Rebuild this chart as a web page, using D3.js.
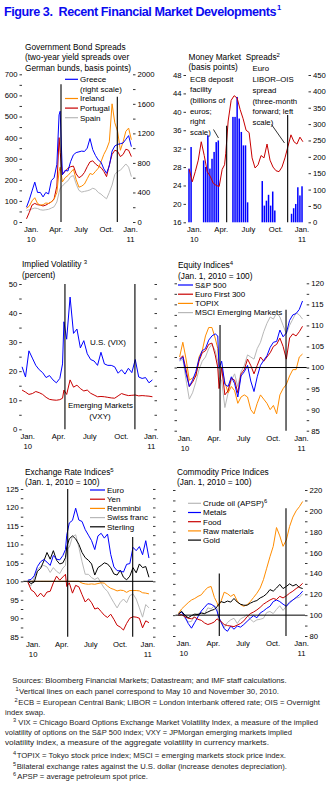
<!DOCTYPE html>
<html>
<head>
<meta charset="utf-8">
<script src="https://cdn.jsdelivr.net/npm/d3@7/dist/d3.min.js"></script>
<style>
html,body{margin:0;padding:0;background:#fff;}
svg{display:block;}
text{white-space:pre;}
</style>
</head>
<body>
<svg id="chart" width="335" height="793"></svg>
<script>
// ================= DATA =================
// sample dates: day offsets from Jan 1, 2010
const dayOffsets = [4,14,24,34,44,54,64,74,84,94,104,114,122,126,134,144,154,164,174,184,194,204,214,224,234,244,254,264,274,284,294,304,314,324,334,344,354,364,374,384];
const eventDays = [129, 333]; // May 10 and Nov 30, 2010
const monthLabels = ["Jan.","Apr.","July","Oct.","Jan."];
const yearLabels = ["10","11"];

// Panel 1: Government bond spreads (bp)
const greece   = [200,300,420,540,400,400,340,400,380,560,600,780,1450,1500,640,700,690,820,910,940,950,960,955,1000,1130,980,900,840,810,720,660,760,960,1030,1050,1060,1070,1120,1170,1020];
const ireland  = [65,75,100,115,88,80,82,90,88,95,108,140,240,260,190,210,220,235,250,200,165,170,180,205,230,225,240,255,285,320,345,380,560,470,430,340,380,430,445,390];
const portugal = [15,45,80,88,82,80,76,80,88,95,110,170,400,330,225,240,255,262,265,228,210,218,235,262,285,290,275,265,258,240,215,270,320,340,335,310,320,345,340,310];
const spain    = [55,58,62,66,64,58,56,58,60,66,72,95,140,160,170,185,195,215,220,180,150,142,145,148,152,160,155,140,132,120,110,140,175,225,240,245,260,275,260,215];
const p1LeftTicks = [0,100,200,300,400,500,600,700];
const p1RightTicks = [0,400,800,1200,1600,2000];

// Panel 2: Money market spreads
const liborOis = [27.5,24.8,27.0,29.5,33.5,30.5,27.0,26.0,24.5,24.0,23.8,27.5,28.5,31.0,38.0,42.5,43.5,43.0,40.5,38.5,36.0,35.5,30.0,27.8,28.5,30.5,30.0,33.0,29.5,28.0,27.2,27.0,28.0,30.0,32.5,35.0,33.5,33.0,34.5,33.5];
const ecbDays   = [3,10,52,59,66,73,80,87,94,101,150,157,164,171,178,185,192,199,248,255,262,269,276,283,290,346,353,360,367,374,381];
const ecbValues = [164,230,189,169,266,164,194,215,245,250,322,322,383,317,276,235,235,61,126,51,66,84,51,94,36,26,43,56,107,82,110];
const p2LeftTicks = [16,20,24,28,32,36,40,44,48];
const p2RightTicks = [0,50,100,150,200,250,300,350,400,450];

// Panel 3: Implied volatility (percent)
const vix = [21.5,18.0,27.0,24.5,22.0,20.5,19.5,17.8,18.5,17.0,16.0,17.5,22.5,37.0,31.0,45.5,33.0,34.5,28.0,30.5,26.0,24.0,23.5,22.0,26.5,22.5,22.0,22.0,21.5,19.3,20.5,19.0,21.0,19.5,24.0,18.0,17.5,17.8,16.0,17.0];
const vxy = [13.5,12.8,12.0,12.3,13.0,12.6,12.0,11.0,10.3,10.1,10.0,10.2,10.7,13.5,12.0,17.0,14.5,15.2,14.0,13.2,13.5,12.4,11.8,11.2,11.3,11.2,11.0,10.8,10.7,11.5,12.3,11.9,11.6,11.7,11.8,11.5,11.6,11.5,11.4,11.2];
const p3Ticks = [0,10,20,30,40,50];
const p3Minor = [5,15,25,35,45];

// Panel 4: Equity indices (Jan 1, 2010 = 100)
const sp500  = [101.8,102.5,98.5,95.5,97.0,99.0,102.0,104.0,104.5,106.5,107.5,108.0,107.5,99.8,101.5,96.0,95.5,97.8,96.2,93.0,98.0,99.0,100.5,96.8,94.3,97.8,100.5,101.7,102.8,104.8,106.0,106.2,108.9,107.3,108.2,111.2,112.5,112.8,113.8,115.8];
const euro300 = [102.0,102.8,99.5,95.5,96.5,98.0,101.5,103.5,104.0,105.5,105.8,103.0,100.0,95.0,100.0,93.5,94.5,97.5,97.0,94.0,98.5,99.5,102.0,100.5,98.5,100.5,102.5,101.5,102.5,103.5,105.0,105.5,107.0,105.0,102.0,107.0,108.0,107.5,108.5,109.8];
const topix  = [102.5,106.0,102.0,97.0,97.5,98.0,102.5,104.0,107.5,109.5,109.5,107.0,104.5,100.5,100.0,96.5,94.0,95.5,94.5,91.5,93.0,93.5,93.0,90.0,89.0,91.5,93.5,92.5,91.5,90.0,91.0,89.0,93.5,95.0,96.0,98.0,99.5,99.5,102.5,103.2];
const msciEm = [101.5,102.0,97.0,92.5,94.0,96.5,99.5,101.5,102.5,104.5,105.5,104.0,101.5,97.5,97.0,90.5,94.0,97.0,98.5,95.5,99.0,100.5,103.0,102.5,102.0,104.5,106.0,108.5,110.5,112.0,111.5,113.0,112.0,110.0,108.0,110.0,111.5,113.0,112.5,111.5];
const p4Ticks = [85,90,95,100,105,110,115,120];
const p4Minor = [87.5,92.5,97.5,102.5,107.5,112.5,117.5];

// Panel 5: Exchange rate indices (Jan 1, 2010 = 100)
const euroFx   = [100.3,100.5,101.5,104.0,105.3,105.9,105.2,104.3,107.0,106.0,105.8,107.0,108.6,112.5,115.8,116.5,119.8,116.6,116.2,114.0,112.5,111.0,108.6,112.3,113.0,111.7,112.8,107.3,103.9,102.9,102.8,102.5,104.6,104.8,109.2,108.3,109.4,107.2,111.0,106.3];
const yen      = [99.8,97.7,97.1,95.8,96.8,95.8,97.1,97.3,99.6,101.4,100.3,101.2,101.9,98.6,99.6,96.8,98.9,98.5,96.4,94.4,95.3,94.2,92.5,92.8,91.8,90.8,90.2,91.1,89.7,88.1,87.6,86.8,88.6,90.0,90.4,90.3,90.0,87.4,89.3,88.8];
const renminbi = [100,100,100,100,100,100,100,100,100,100,100,100,100,100,100,100,100,100,99.5,99.3,99.2,99.3,99.2,99.4,99.6,99.5,98.7,98.1,97.8,97.4,97.6,97.5,97.0,97.5,97.5,97.5,97.4,96.9,96.8,96.6];
const swiss    = [99.5,98.8,101.0,103.1,104.0,104.3,103.9,102.4,103.7,102.7,102.1,103.6,104.3,108.7,109.2,112.1,112.6,109.2,105.3,101.9,101.9,101.0,100.5,101.0,99.5,98.1,97.3,95.7,94.2,92.8,94.3,95.2,94.2,96.1,96.6,95.2,92.8,90.3,93.7,92.8];
const sterling = [100.0,99.4,99.8,102.7,103.5,105.5,107.8,106.0,108.3,105.7,104.7,105.0,106.4,109.3,111.5,112.3,111.5,110.0,107.8,106.4,105.7,104.7,101.7,103.7,104.3,105.0,104.7,103.7,102.0,101.7,103.0,101.1,100.4,101.4,103.7,102.3,104.7,103.7,104.0,101.1];
const p5Ticks = [85,90,95,100,105,110,115,120,125];
const p5Minor = [87.5,92.5,97.5,102.5,107.5,112.5,117.5,122.5];

// Panel 6: Commodity price indices (Jan 1, 2010 = 100)
const crudeOil = [102.0,104.0,97.0,93.5,94.0,100.0,101.5,102.5,101.0,107.0,106.0,109.0,107.0,97.5,94.0,88.0,93.0,95.5,97.0,92.0,96.5,98.0,100.5,96.0,93.5,95.5,96.0,97.0,102.5,103.5,101.5,105.5,109.0,104.5,108.5,113.0,114.5,116.5,117.0,120.5];
const metals   = [101.0,103.0,98.5,92.0,87.5,93.0,98.5,104.0,107.5,111.0,110.5,108.5,104.0,99.5,93.5,87.0,84.5,89.5,86.5,89.5,88.5,91.0,94.0,97.0,99.5,97.5,102.0,104.0,106.5,108.5,113.0,114.5,113.0,110.5,108.5,112.0,114.5,117.0,119.5,123.0];
const food     = [100.0,100.5,98.5,97.0,96.5,98.0,96.0,95.0,92.5,91.0,92.0,93.5,96.5,95.5,94.0,91.0,90.0,89.5,89.0,90.5,92.0,94.5,98.5,101.5,103.0,105.0,107.5,110.5,112.5,114.5,116.0,115.0,118.0,116.5,118.5,121.0,123.0,125.5,127.5,130.5];
const rawMat   = [101.5,106.0,109.0,112.0,114.5,116.0,118.0,119.5,123.5,126.5,127.5,117.0,112.0,108.5,113.0,122.0,120.5,118.0,120.0,113.5,110.0,108.5,110.0,113.0,117.0,121.0,126.0,134.0,145.0,156.0,166.0,184.0,176.0,166.0,172.0,185.0,194.0,200.0,204.0,209.0];
const gold     = [101.0,103.5,100.0,97.5,99.5,101.0,100.5,102.0,101.5,103.0,104.5,105.5,108.0,110.0,113.0,112.0,113.5,112.5,116.0,112.5,110.5,109.5,109.5,111.5,113.0,114.0,116.5,118.0,120.5,124.5,123.0,126.0,129.5,125.5,127.5,130.0,128.0,129.5,126.5,125.5];
const p6Ticks = [80,100,120,140,160,180,200,220];
const p6Minor = [90,110,130,150,170,190,210];

const footnotes = [
  ["", "Sources: Bloomberg Financial Markets; Datastream; and IMF staff calculations."],
  ["1","Vertical lines on each panel correspond to May 10 and November 30, 2010."],
  ["2","ECB = European Central Bank; LIBOR = London interbank offered rate; OIS = Overnight"],
  ["", "index swap."],
  ["3","VIX = Chicago Board Options Exchange Market Volatility Index, a measure of the implied"],
  ["", "volatility of options on the S&P 500 index; VXY = JPMorgan emerging markets implied"],
  ["", "volatility index, a measure of the aggregate volatility in currency markets."],
  ["4","TOPIX = Tokyo stock price index; MSCI = emerging markets stock price index."],
  ["5","Bilateral exchange rates against the U.S. dollar (increase denotes depreciation)."],
  ["6","APSP = average petroleum spot price."]
];

// ================= DRAWING =================
const FONT = '"Liberation Sans", Arial, Helvetica, sans-serif';
const C = {blue:"#0000ff", red:"#c80000", orange:"#ff8c00", gray:"#b8b8b8", black:"#000000"};
const svg = d3.select("#chart").attr("font-family", FONT);
const base = new Date(2010, 0, 1);
const dates = dayOffsets.map(d => d3.timeDay.offset(base, d));
const labelDates = [new Date(2010,0,20), new Date(2010,3,20), new Date(2010,6,20), new Date(2010,9,20), new Date(2011,0,15)];

function xScale(x0, ppd){
  return d3.scaleTime().domain([base, d3.timeDay.offset(base, 365)]).range([x0, x0 + 365*ppd]);
}
function styleAxis(g){
  g.selectAll(".domain").remove();
  g.attr("font-family", FONT).attr("font-size", 7.7);
  g.selectAll("line").attr("stroke", "#000").attr("stroke-width", 0.8);
  g.selectAll("text").attr("fill", "#000");
}
function yAxis(side, scale, ax, major, minor, labels){
  const mk = side === "left" ? d3.axisLeft : d3.axisRight;
  if (minor){
    const gm = svg.append("g").attr("transform", `translate(${ax},0)`)
      .call(mk(scale).tickValues(minor).tickSize(2.5).tickFormat(""));
    styleAxis(gm);
  }
  const g = svg.append("g").attr("transform", `translate(${ax},0)`)
    .call(mk(scale).tickValues(major).tickSize(2.5).tickPadding(2).tickFormat(labels ? d3.format("d") : ""));
  styleAxis(g);
}
function xAxis(x, y0){
  const g = svg.append("g").attr("transform", `translate(0,${y0})`)
    .call(d3.axisBottom(x).tickValues(labelDates).tickSize(0).tickPadding(4.5).tickFormat((d,i) => monthLabels[i]));
  styleAxis(g);
  const nodes = g.selectAll(".tick").nodes();
  [0, nodes.length - 1].forEach((k, j) => {
    d3.select(nodes[k]).append("text").attr("y", 14.5).attr("dy", "0.71em").attr("fill", "#000").text(yearLabels[j]);
  });
}
function drawLine(x, y, vals, color, w){
  svg.append("path").datum(vals)
    .attr("fill", "none").attr("stroke", color).attr("stroke-width", w || 1)
    .attr("stroke-linejoin", "round")
    .attr("d", d3.line().x((d,i) => x(dates[i])).y(d => y(d)));
}
function eventLines(x, y, tops, bottom){
  eventDays.forEach((d, i) => {
    const xx = x(d3.timeDay.offset(base, d));
    svg.append("line").attr("x1", xx).attr("x2", xx).attr("y1", y(tops[i])).attr("y2", y(bottom))
      .attr("stroke", "#000").attr("stroke-width", 1.1);
  });
}
function hLine(y, v, xa, xb){
  svg.append("line").attr("x1", xa).attr("x2", xb).attr("y1", y(v)).attr("y2", y(v))
    .attr("stroke", "#000").attr("stroke-width", 1);
}
function label(x, y, str, size, sup){
  const t = svg.append("text").attr("x", x).attr("y", y).attr("font-size", size).attr("fill", "#000");
  t.append("tspan").text(str);
  if (sup) t.append("tspan").attr("dy", -3).attr("font-size", size * 0.72).text(sup);
  return t;
}
function legend(xLine, xText, yc, step, items){
  items.forEach((it, i) => {
    const yy = yc + i * step;
    if (it.color) svg.append("line").attr("x1", xLine).attr("x2", xText - 2).attr("y1", yy).attr("y2", yy)
      .attr("stroke", it.color).attr("stroke-width", 1.2);
    label(xText, yy + 2.8, it.name, 8, it.sup);
  });
}

// ----- Title (single text element, superscript as tspan) -----
{
  const t = svg.append("text").attr("x", 4).attr("y", 15.5).attr("font-size", 12.6).attr("font-weight", "bold")
    .attr("fill", "#0a0af0").attr("letter-spacing", -0.45);
  t.append("tspan").text("Figure 3.  Recent Financial Market Developments");
  t.append("tspan").attr("dx", 1).attr("dy", -5.5).attr("font-size", 7.5).attr("letter-spacing", 0).text("1");
}

// ----- Panel 1: Government bond spreads -----
{
  const x = xScale(25.4, 0.276);
  const yL = d3.scaleLinear().domain([0, 700]).range([222, 74.3]);
  const yR = d3.scaleLinear().domain([0, 2000]).range([222, 74.3]);
  label(25, 49.5, "Government Bond Spreads", 8.3);
  label(25, 60, "(two-year yield spreads over", 8.3);
  label(25, 70.5, "German bunds, basis points)", 8.3);
  yAxis("left", yL, 22, p1LeftTicks, p1LeftTicks.slice(0,-1).map(v => v + 50), true);
  yAxis("right", yR, 133, p1RightTicks, p1RightTicks.slice(0,-1).map(v => v + 200), true);
  xAxis(x, 222);
  drawLine(x, yL, spain, C.gray);
  drawLine(x, yL, portugal, C.red);
  drawLine(x, yL, ireland, C.orange);
  drawLine(x, yR, greece, C.blue);
  eventLines(x, yL, [653, 594], 0);
  legend(65, 80, 79.3, 9.6, [
    {name:"Greece", color:C.blue}, {name:"(right scale)"}, {name:"Ireland", color:C.orange},
    {name:"Portugal", color:C.red}, {name:"Spain", color:C.gray}]);
}

// ----- Panel 2: Money market spreads -----
{
  const x = xScale(188.1, 0.299);
  const yL = d3.scaleLinear().domain([16, 48]).range([222.3, 75]);
  const yR = d3.scaleLinear().domain([0, 450]).range([222.3, 75]);
  label(188.5, 59.5, "Money Market  Spreads", 8.3, "2");
  label(188.5, 70, "(basis points)", 8.3);
  yAxis("left", yL, 186, p2LeftTicks, null, true);
  yAxis("right", yR, 308.5, p2RightTicks, null, true);
  xAxis(x, 222.3);
  svg.append("g").selectAll("rect").data(ecbDays).enter().append("rect")
    .attr("x", d => x(d3.timeDay.offset(base, d)) - 0.75).attr("width", 1.5)
    .attr("y", (d,i) => yR(ecbValues[i])).attr("height", (d,i) => yR(0) - yR(ecbValues[i]))
    .attr("fill", C.blue);
  drawLine(x, yL, liborOis, C.red);
  eventLines(x, yL, [37, 39.3], 16);
  ["ECB deposit","facility","(billions of","euros;","right","scale)"].forEach((s, i) => label(190, 81.8 + i * 10.65, s, 7.8));
  ["Euro","LIBOR\u2013OIS","spread","(three-month","forward; left","scale)"].forEach((s, i) => label(252.5, 71.1 + i * 10.8, s, 7.8));
  svg.append("line").attr("x1", 213.5).attr("y1", 129.5).attr("x2", 218.5).attr("y2", 138).attr("stroke", "#000").attr("stroke-width", 0.8);
  svg.append("line").attr("x1", 271.5).attr("y1", 124.5).attr("x2", 284.5).attr("y2", 143).attr("stroke", "#000").attr("stroke-width", 0.8);
}

// ----- Panel 3: Implied volatility -----
{
  const x = xScale(20.7, 0.343);
  const y = d3.scaleLinear().domain([0, 50]).range([429.3, 284]);
  label(22, 267, "Implied Volatility ", 8.3, "3");
  label(22, 278, "(percent)", 8.3);
  yAxis("left", y, 21.7, p3Ticks, p3Minor, true);
  yAxis("right", y, 154.5, p3Ticks, p3Minor, false);
  xAxis(x, 429.3);
  drawLine(x, y, vxy, C.red);
  drawLine(x, y, vix, C.blue);
  eventLines(x, y, [50, 50], 0);
  label(90, 344.5, "U.S. (VIX)", 8);
  label(68, 408, "Emerging Markets", 8);
  label(100, 418.5, "(VXY)", 8).attr("text-anchor", "middle");
}

// ----- Panel 4: Equity indices -----
{
  const x = xScale(178.3, 0.3235);
  const y = d3.scaleLinear().domain([85, 120]).range([430.7, 283.3]);
  label(178, 268, "Equity Indices", 8.3, "4");
  label(178, 278.5, "(Jan. 1, 2010 = 100)", 8.3);
  yAxis("left", y, 177, p4Ticks, p4Minor, false);
  yAxis("right", y, 306.7, p4Ticks, p4Minor, true);
  xAxis(x, 430.7);
  drawLine(x, y, msciEm, C.gray);
  drawLine(x, y, topix, C.orange);
  drawLine(x, y, euro300, C.red);
  drawLine(x, y, sp500, C.blue);
  hLine(y, 100, 177, 306.7);
  eventLines(x, y, [110.1, 113.7], 85);
  legend(178, 195, 285, 9.2, [
    {name:"S&P 500", color:C.blue}, {name:"Euro First 300", color:C.red},
    {name:"TOPIX", color:C.orange}, {name:"MSCI Emerging Markets", color:C.gray}]);
}

// ----- Panel 5: Exchange rate indices -----
{
  const x = xScale(26.6, 0.3186);
  const y = d3.scaleLinear().domain([85, 125]).range([636.7, 489]);
  label(25, 474.5, "Exchange Rate Indices", 8.3, "5");
  label(25, 485, "(Jan. 1, 2010 = 100)", 8.3);
  yAxis("left", y, 23.3, p5Ticks, p5Minor, true);
  yAxis("right", y, 153, p5Ticks, p5Minor, false);
  xAxis(x, 636.7);
  drawLine(x, y, swiss, C.gray);
  drawLine(x, y, renminbi, C.orange);
  drawLine(x, y, yen, C.red);
  drawLine(x, y, sterling, C.black);
  drawLine(x, y, euroFx, C.blue);
  hLine(y, 100, 23.3, 153);
  eventLines(x, y, [125, 112], 85);
  legend(90, 107, 490, 9.2, [
    {name:"Euro", color:C.blue}, {name:"Yen", color:C.red}, {name:"Renminbi", color:C.orange},
    {name:"Swiss franc", color:C.gray}, {name:"Sterling", color:C.black}]);
}

// ----- Panel 6: Commodity price indices -----
{
  const x = xScale(177.1, 0.327);
  const y = d3.scaleLinear().domain([80, 220]).range([636, 490]);
  label(177, 474.5, "Commodity Price Indices", 8.3);
  label(177, 485, "(Jan. 1, 2010 = 100)", 8.3);
  yAxis("left", y, 175.5, p6Ticks, p6Minor, false);
  yAxis("right", y, 305, p6Ticks, p6Minor, true);
  xAxis(x, 636);
  drawLine(x, y, crudeOil, C.gray);
  drawLine(x, y, metals, C.blue);
  drawLine(x, y, food, C.red);
  drawLine(x, y, rawMat, C.orange);
  drawLine(x, y, gold, C.black);
  hLine(y, 100, 175.5, 305);
  eventLines(x, y, [140, 202.5], 80);
  legend(188, 203, 503.3, 9.2, [
    {name:"Crude oil (APSP)", color:C.gray, sup:"6"}, {name:"Metals", color:C.blue},
    {name:"Food", color:C.red}, {name:"Raw materials", color:C.orange}, {name:"Gold", color:C.black}]);
}

// ----- Footnotes -----
{
  const fx  = [12.3, 19, 18.3, 5, 18.3, 5, 5, 16.7, 16.7, 17.3];
  const sx  = [0, 15.5, 14.5, 0, 13, 0, 0, 13, 13, 13];
  const fy  = [683, 694, 705, 715, 725, 735, 745, 757.5, 768.5, 779];
  const fw  = [274.4, 260, 301.7, 0, 299.7, 287, 264, 269.3, 270.3, 130.7];
  footnotes.forEach((f, i) => {
    if (f[0]) svg.append("text").attr("x", sx[i]).attr("y", fy[i] - 3).attr("font-size", 5.6).attr("fill", "#222").text(f[0]);
    const t = svg.append("text").attr("x", fx[i]).attr("y", fy[i]).attr("font-size", 7.6).attr("fill", "#222").text(f[1]);
    if (fw[i]) t.attr("textLength", fw[i]).attr("lengthAdjust", "spacingAndGlyphs");
  });
}
</script>
</body>
</html>
